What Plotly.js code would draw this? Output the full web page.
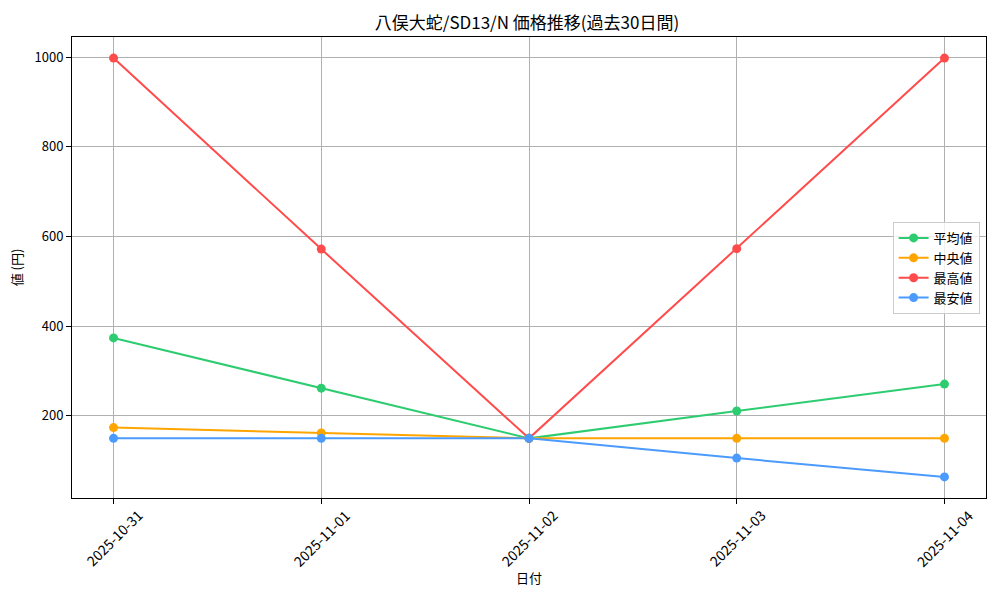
<!DOCTYPE html>
<html>
<head>
<meta charset="utf-8">
<script src="https://cdn.plot.ly/plotly-3.0.1.min.js"></script>
<style>
  body { margin: 0; background: #fff; }
  #chart { width: 1000px; height: 600px; }
</style>
</head>
<body>
<div id="chart"></div>
<script>
const dates = ["2025-10-31", "2025-11-01", "2025-11-02", "2025-11-03", "2025-11-04"];
const avgPrices = [374, 262, 150, 211, 271];
const medianPrices = [174, 162, 150, 150, 150];
const maxPrices = [998, 572, 150, 573, 998];
const minPrices = [150, 150, 150, 106, 64];

const seriesDefs = [
  { name: "平均値", values: avgPrices, color: "#2ecc71" },
  { name: "中央値", values: medianPrices, color: "#ffa500" },
  { name: "最高値", values: maxPrices, color: "#ff4b4b" },
  { name: "最安値", values: minPrices, color: "#4b9bff" },
];

const fontFamily = "Noto Sans CJK JP, sans-serif";

const data = seriesDefs.map((s) => ({
  type: "scatter",
  mode: "lines+markers",
  name: s.name,
  x: dates,
  y: s.values,
  line: { color: s.color, width: 2 },
  marker: { color: s.color, size: 9 },
}));

const axisCommon = {
  showline: true,
  linecolor: "#000",
  linewidth: 1,
  mirror: true,
  ticks: "outside",
  ticklen: 5,
  tickcolor: "#000",
  showgrid: true,
  gridcolor: "#b0b0b0",
  gridwidth: 1,
  zeroline: false,
  tickfont: { size: 13, color: "#000", family: fontFamily },
};

// rotated date labels, centred under each tick like the reference
const dateLabels = dates.map((d) => ({
  x: d,
  xref: "x",
  y: -0.086,
  yref: "paper",
  text: d,
  textangle: -45,
  showarrow: false,
  xanchor: "center",
  yanchor: "middle",
  font: { size: 14, color: "#000", family: fontFamily },
}));

const layout = {
  width: 1000,
  height: 600,
  paper_bgcolor: "#fff",
  plot_bgcolor: "#fff",
  margin: { l: 72, r: 14, t: 37, b: 102 },
  font: { family: fontFamily, color: "#000" },
  title: {
    text: "八俣大蛇/SD13/N 価格推移(過去30日間)",
    font: { size: 17, color: "#000", family: fontFamily },
    x: 0.527,
    xanchor: "center",
    y: 0.962,
    yanchor: "middle",
  },
  xaxis: {
    ...axisCommon,
    type: "category",
    range: [-0.2, 4.2],
    showticklabels: false,
    title: { text: "日付", font: { size: 13, family: fontFamily }, standoff: 70 },
  },
  yaxis: {
    ...axisCommon,
    range: [17, 1045],
    tickvals: [200, 400, 600, 800, 1000],
    title: { text: "値 (円)", font: { size: 13, family: fontFamily }, standoff: 8 },
  },
  annotations: dateLabels,
  legend: {
    x: 0.993,
    xanchor: "right",
    y: 0.499,
    yanchor: "middle",
    bgcolor: "rgba(255,255,255,0.8)",
    bordercolor: "#cccccc",
    borderwidth: 1,
    font: { size: 13, family: fontFamily },
  },
  showlegend: true,
};

Plotly.newPlot("chart", data, layout, { displayModeBar: false, staticPlot: true });
</script>
</body>
</html>
